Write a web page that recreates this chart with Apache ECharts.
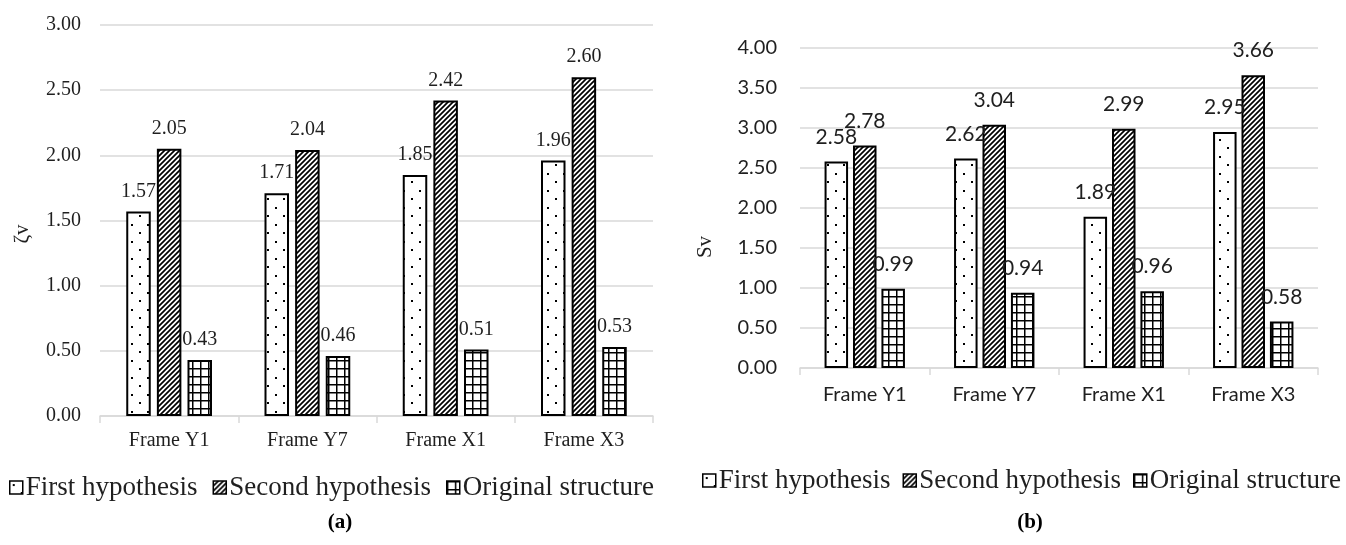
<!DOCTYPE html>
<html>
<head>
<meta charset="utf-8">
<script src="https://cdn.jsdelivr.net/npm/echarts@6/dist/echarts.min.js"></script>
<style>
  html, body { margin: 0; padding: 0; background: #fff; }
  #chart { width: 1346px; height: 545px; }
</style>
</head>
<body>
<div id="chart"></div>
<script>
// Frames compared in both panels
const categories = ['Frame Y1', 'Frame Y7', 'Frame X1', 'Frame X3'];
const seriesNames = ['First hypothesis', 'Second hypothesis', 'Original structure'];

// Panel (a): ζv
const zetaFirst = [1.57, 1.71, 1.85, 1.96];
const zetaSecond = [2.05, 2.04, 2.42, 2.60];
const zetaOriginal = [0.43, 0.46, 0.51, 0.53];

// Panel (b): Sv
const svFirst = [2.58, 2.62, 1.89, 2.95];
const svSecond = [2.78, 3.04, 2.99, 3.66];
const svOriginal = [0.99, 0.94, 0.96, 0.58];

const SERIF = '"Liberation Serif", "Times New Roman", serif';
const SANS = 'Lato, "Open Sans", sans-serif';
const INK = '#1f1f1f';
const GRID_GRAY = '#d9d9d9';

// Fill patterns for the three series
function tile(w, h, draw) {
  const c = document.createElement('canvas');
  c.width = w; c.height = h;
  const ctx = c.getContext('2d');
  ctx.fillStyle = '#fff';
  ctx.fillRect(0, 0, w, h);
  ctx.fillStyle = '#000';
  ctx.strokeStyle = '#000';
  draw(ctx);
  return { image: c, repeat: 'repeat' };
}
const dotFill = tile(16, 17, ctx => {
  ctx.fillRect(3, 3, 2, 2);
  ctx.fillRect(11, 11, 2, 2);
});
const stripeFill = tile(5, 5, ctx => {
  ctx.lineWidth = 1.7;
  ctx.beginPath();
  ctx.moveTo(-1, 6); ctx.lineTo(6, -1);
  ctx.moveTo(-1, 1); ctx.lineTo(1, -1);
  ctx.moveTo(4, 6); ctx.lineTo(6, 4);
  ctx.stroke();
});
const gridFill = tile(8, 8, ctx => {
  ctx.fillRect(0, 0, 8, 1.5);
  ctx.fillRect(0, 0, 1.5, 8);
});
const fills = [dotFill, stripeFill, gridFill];

function makeSeries(values, idx, axisIdx, font, fontSize, dist, barWidth, barGap) {
  return {
    name: seriesNames[idx],
    type: 'bar',
    xAxisIndex: axisIdx,
    yAxisIndex: axisIdx,
    data: values,
    barWidth: barWidth,
    barGap: barGap,
    itemStyle: { color: fills[idx], borderColor: '#000', borderWidth: 2 },
    label: {
      show: true,
      position: 'top',
      distance: dist,
      formatter: p => p.value.toFixed(2),
      fontFamily: font,
      fontSize: fontSize,
      color: INK
    },
    emphasis: { disabled: true }
  };
}

function yAxisFor(gridIdx, max, font, margin) {
  return {
    type: 'value',
    gridIndex: gridIdx,
    min: 0, max: max, interval: 0.5,
    axisLine: { show: false },
    axisTick: { show: false },
    axisLabel: { formatter: v => v.toFixed(2), fontFamily: font, fontSize: 20, color: INK, margin: margin },
    splitLine: { lineStyle: { color: GRID_GRAY, width: 1.5 } }
  };
}

function xAxisFor(gridIdx, font, margin) {
  return {
    type: 'category',
    gridIndex: gridIdx,
    data: categories,
    axisLine: { lineStyle: { color: GRID_GRAY, width: 1.5 } },
    axisTick: { show: true, length: 7, lineStyle: { color: GRID_GRAY, width: 1.5 } },
    axisLabel: { fontFamily: font, fontSize: 20, color: INK, margin: margin }
  };
}

const legendBase = {
  data: seriesNames,
  icon: 'rect',
  itemWidth: 13,
  itemHeight: 13,
  selectedMode: false,
  orient: 'horizontal',
  textStyle: { fontFamily: SERIF, fontSize: 27, color: INK, padding: [0, 0, 0, -2] },
  itemStyle: { borderColor: '#000', borderWidth: 1.5 }
};

const option = {
  animation: false,
  backgroundColor: '#fff',
  grid: [
    { left: 100, right: 693, top: 25, bottom: 129 },
    { left: 800, right: 28, top: 48, bottom: 177 }
  ],
  xAxis: [xAxisFor(0, SERIF, 15), xAxisFor(1, SANS, 17)],
  yAxis: [yAxisFor(0, 3, SERIF, 19), yAxisFor(1, 4, SANS, 23)],
  legend: [
    Object.assign({}, legendBase, { left: 4, top: 469, width: 680, itemGap: 15 }),
    Object.assign({}, legendBase, { left: 697, top: 462, width: 648, itemGap: 12 })
  ],
  graphic: [
    { type: 'text', x: 22, y: 234, rotation: Math.PI / 2,
      style: { text: 'ζv', font: '21px ' + SERIF, fill: INK, textAlign: 'center', textVerticalAlign: 'middle' } },
    { type: 'text', x: 705, y: 247, rotation: Math.PI / 2,
      style: { text: 'Sv', font: '21px ' + SERIF, fill: INK, textAlign: 'center', textVerticalAlign: 'middle' } },
    { type: 'text', x: 340, y: 523,
      style: { text: '(a)', font: 'bold 21px ' + SERIF, fill: '#000', textAlign: 'center', textVerticalAlign: 'middle' } },
    { type: 'text', x: 1030, y: 523,
      style: { text: '(b)', font: 'bold 21px ' + SERIF, fill: '#000', textAlign: 'center', textVerticalAlign: 'middle' } }
  ],
  series: [
    makeSeries(zetaFirst, 0, 0, SERIF, 20, 10, 24.5, '25%'),
    makeSeries(zetaSecond, 1, 0, SERIF, 20, 10, 24.5, '25%'),
    makeSeries(zetaOriginal, 2, 0, SERIF, 20, 10, 24.5, '25%'),
    makeSeries(svFirst, 0, 1, SANS, 21, 14, 23.5, '21%'),
    makeSeries(svSecond, 1, 1, SANS, 21, 14, 23.5, '21%'),
    makeSeries(svOriginal, 2, 1, SANS, 21, 14, 23.5, '21%')
  ]
};

const chart = echarts.init(document.getElementById('chart'), null, { renderer: 'canvas' });
chart.setOption(option);
</script>
</body>
</html>
